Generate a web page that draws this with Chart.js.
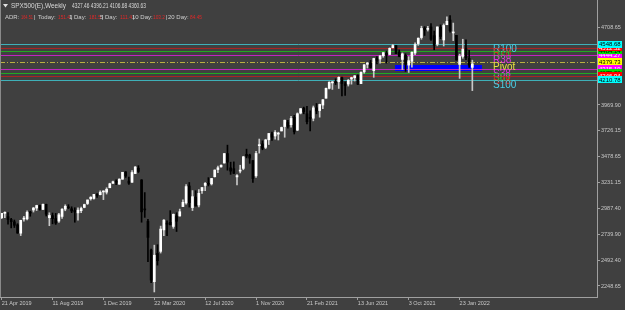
<!DOCTYPE html>
<html>
<head>
<meta charset="utf-8">
<script src="https://cdn.jsdelivr.net/npm/chart.js@4.4.0/dist/chart.umd.min.js"></script>
<style>
  html, body { margin: 0; padding: 0; background: #404040; }
  canvas { display: block; }
</style>
</head>
<body>
<canvas id="myChart" width="625" height="310"></canvas>
<script>
// weekly bars, 21 Apr 2019 .. 20 Feb 2022
const open = [
  2898, 2940, 2908, 2881, 2859, 2830, 2751, 2885, 2887, 2950, 2971, 2990, 3014, 2977, 3025, 2898, 2918, 2890, 2866, 2910,
  2980, 3000, 2983, 2967, 2944, 2965, 2996, 3033, 3078, 3081, 3117, 3117, 3143, 3141, 3183, 3225, 3240,
  3217, 3264, 3333, 3247, 3235, 3318, 3369, 3257, 2974, 2863, 2590, 2290, 2558, 2578, 2782, 2845, 2854, 2815, 2915, 2914,
  3004, 3039, 3200, 2994, 3094, 3019, 3155, 3205, 3224, 3220, 3288, 3356, 3381, 3418, 3508, 3372, 3364, 3286, 3341, 3367,
  3500, 3494, 3441, 3296, 3583, 3600, 3567, 3639, 3695, 3675, 3693, 3723,
  3765, 3803, 3782, 3852, 3731, 3893, 3940, 3886, 3843, 3844, 3943, 3917, 3969, 4034, 4128, 4180, 4185, 4192, 4228, 4170,
  4169, 4217, 4229, 4249, 4173, 4285, 4357, 4372, 4296, 4410, 4407, 4438, 4462, 4450, 4514, 4535, 4475, 4403, 4442, 4349,
  4385, 4464, 4554, 4611, 4702, 4689, 4712, 4629, 4548, 4710, 4588, 4733,
  4778, 4655, 4632, 4356, 4432, 4506, 4413, 4327.46
];
const high = [
  2940, 2954, 2947, 2892, 2876, 2841, 2874, 2910, 2964, 2959, 2996, 3017, 3018, 3028, 3027, 2945, 2943, 2939, 2940, 2985,
  3021, 3022, 3002, 2993, 2993, 3000, 3027, 3066, 3098, 3121, 3127, 3154, 3154, 3183, 3226, 3247, 3258,
  3268, 3329, 3337, 3285, 3347, 3385, 3393, 3260, 3137, 2882, 2600, 2637, 2641, 2818, 2880, 2868, 2965, 2934, 2945, 2980,
  3069, 3212, 3233, 3156, 3155, 3166, 3184, 3233, 3279, 3272, 3353, 3388, 3400, 3509, 3588, 3426, 3429, 3307, 3397, 3482,
  3550, 3502, 3441, 3529, 3646, 3629, 3644, 3699, 3712, 3727, 3711, 3760,
  3827, 3824, 3861, 3871, 3895, 3937, 3950, 3958, 3915, 3960, 3984, 3978, 4021, 4130, 4191, 4194, 4219, 4238, 4236, 4189,
  4213, 4234, 4250, 4257, 4286, 4355, 4372, 4394, 4415, 4430, 4441, 4468, 4482, 4513, 4546, 4535, 4493, 4465, 4457, 4430,
  4476, 4560, 4608, 4719, 4715, 4718, 4744, 4673, 4713, 4732, 4741, 4809,
  4819, 4749, 4632, 4453, 4595, 4590, 4490, 4396.21
];
const low = [
  2889, 2898, 2836, 2801, 2805, 2750, 2728, 2864, 2876, 2912, 2952, 2966, 2970, 2975, 2914, 2822, 2840, 2834, 2853, 2891,
  2964, 2985, 2946, 2855, 2874, 2946, 2992, 3023, 3065, 3075, 3091, 3115, 3070, 3123, 3183, 3223, 3212,
  3215, 3264, 3281, 3214, 3234, 3318, 3328, 2855, 2901, 2479, 2280, 2192, 2447, 2562, 2727, 2727, 2830, 2797, 2767, 2914,
  3004, 3026, 2999, 2966, 3009, 3000, 3128, 3155, 3200, 3209, 3284, 3327, 3379, 3418, 3350, 3310, 3318, 3210, 3324, 3354,
  3467, 3415, 3234, 3280, 3512, 3544, 3555, 3594, 3633, 3646, 3637, 3723,
  3663, 3750, 3760, 3694, 3726, 3885, 3886, 3790, 3723, 3819, 3886, 3854, 3936, 4034, 4122, 4118, 4164, 4127, 4057, 4061,
  4150, 4168, 4198, 4164, 4173, 4272, 4321, 4322, 4233, 4360, 4368, 4423, 4368, 4450, 4514, 4458, 4428, 4306, 4289, 4279,
  4330, 4448, 4537, 4595, 4631, 4673, 4585, 4495, 4532, 4600, 4531, 4733,
  4663, 4582, 4395, 4223, 4414, 4401, 4327, 4106.68
];
const close = [
  2940, 2946, 2881, 2860, 2826, 2752, 2873, 2887, 2950, 2942, 2990, 3014, 2977, 3026, 2932, 2919, 2889, 2847, 2926, 2979,
  3007, 2992, 2962, 2952, 2970, 2986, 3023, 3067, 3093, 3120, 3110, 3141, 3146, 3169, 3221, 3240, 3235,
  3265, 3330, 3295, 3226, 3328, 3380, 3338, 2954, 2972, 2711, 2305, 2541, 2489, 2790, 2875, 2837, 2831, 2930, 2864, 2955,
  3044, 3194, 3041, 3098, 3009, 3130, 3185, 3225, 3216, 3271, 3351, 3373, 3397, 3508, 3427, 3341, 3320, 3298, 3348, 3477,
  3484, 3465, 3270, 3509, 3585, 3558, 3638, 3699, 3664, 3709, 3703, 3756,
  3825, 3768, 3842, 3714, 3887, 3935, 3907, 3811, 3842, 3943, 3913, 3975, 4020, 4129, 4186, 4180, 4181, 4233, 4174, 4156,
  4204, 4230, 4247, 4167, 4281, 4352, 4370, 4327, 4412, 4395, 4437, 4468, 4442, 4509, 4535, 4459, 4433, 4456, 4357, 4391,
  4471, 4545, 4605, 4698, 4683, 4698, 4595, 4538, 4712, 4621, 4726, 4766,
  4677, 4663, 4398, 4432, 4501, 4419, 4349, 4360.63
];

const tickBars = [0, 16, 32, 48, 64, 80, 96, 112, 128, 144];
const tickLabels = ["21 Apr 2019", "11 Aug 2019", "1 Dec 2019", "22 Mar 2020", "12 Jul 2020",
  "1 Nov 2020", "21 Feb 2021", "13 Jun 2021", "3 Oct 2021", "23 Jan 2022"];
const priceTicks = [2248.65, 2492.40, 2739.90, 2987.40, 3231.15, 3478.65, 3726.15, 3969.90, 4217.40, 4461.15, 4708.65];

const levelNames = ["R100", "R78", "R61", "R38", "Pivot", "S38", "S61", "S78", "S100"];
const levelValues = [4548.68, 4512.52, 4484.14, 4444.27, 4379.73, 4315.19, 4275.32, 4246.94, 4210.78];

const zoneBars = [123.6, 151];
const zonePrices = [4290.9, 4347.8];

const symbolText = "SPX500(E),Weekly";
const ohlcText = "4327.46 4396.21 4106.68 4360.63";
const adrNames = ["ADR:", "Today:", "1 Day:", "5 Day:", "10 Day:", "20 Day:"];
const adrValues = ["164.51", "151.4", "181.5", "111.4", "103.2", "84.45"];

// styles
const lineColors = ['#3fb0b8', '#a82424', '#22a822', '#c024c0', '#b8b040', '#c024c0', '#22a822', '#a82424', '#3fb0b8'];
const textColors = ['#48d0e8', '#e02020', '#28c028', '#e030e0', '#e8e040', '#e030e0', '#28c028', '#e02020', '#48d0e8'];
const boxColors = ['#00ffff', '#ff0000', '#00e000', '#ff00ff', '#ffff00', '#ff00ff', '#00e000', '#ff0000', '#00ffff'];
const boxText = ['#000000', '#ffffff', '#000000', '#ffffff', '#000000', '#ffffff', '#000000', '#ffffff', '#000000'];
const boxOrder = [3, 2, 1, 0, 5, 6, 7, 8, 4];
const labelBar = 154.5;
const adrNameX = [5, 38, 69, 100, 132, 168];
const adrValueX = [21, 58, 89, 120, 153, 190];
const FONT = '"Liberation Sans", Arial, sans-serif';

const bars = open.map((o, i) => i);
const bull = bars.map(i => close[i] >= open[i]);

const chartBg = {
  id: 'chartBg',
  beforeDraw(chart) {
    const c = chart.ctx;
    c.save();
    c.fillStyle = '#404040';
    c.fillRect(0, 0, chart.width, chart.height);
    c.restore();
  }
};

const levels = {
  id: 'levels',
  beforeDatasetsDraw(chart) {
    const c = chart.ctx, xs = chart.scales.x, ys = chart.scales.y, a = chart.chartArea;
    c.save();
    // zone rectangle
    const x1 = xs.getPixelForValue(zoneBars[0]), x2 = xs.getPixelForValue(zoneBars[1]);
    const y1 = ys.getPixelForValue(zonePrices[1]), y2 = ys.getPixelForValue(zonePrices[0]);
    c.fillStyle = '#0000ff';
    c.fillRect(Math.round(x1), Math.round(y1), Math.round(x2 - x1), Math.round(y2 - y1));
    // level lines
    levelValues.forEach((v, i) => {
      const y = Math.round(ys.getPixelForValue(v)) + 0.5;
      c.strokeStyle = lineColors[i];
      c.lineWidth = 1;
      c.setLineDash(levelNames[i] === 'Pivot' ? [5, 2, 1, 2] : []);
      c.beginPath();
      c.moveTo(a.left, y);
      c.lineTo(a.right, y);
      c.stroke();
    });
    c.restore();
  },
  afterDraw(chart) {
    const c = chart.ctx, xs = chart.scales.x, ys = chart.scales.y, a = chart.chartArea;
    c.save();
    // left frame line
    c.strokeStyle = '#8a8a8a';
    c.beginPath();
    c.moveTo(0.5, 0);
    c.lineTo(0.5, a.bottom);
    c.stroke();

    // level names
    c.font = '10px ' + FONT;
    c.textBaseline = 'top';
    c.textAlign = 'left';
    const lx = xs.getPixelForValue(labelBar);
    levelValues.forEach((v, i) => {
      c.fillStyle = textColors[i];
      c.fillText(levelNames[i], lx, ys.getPixelForValue(v) + 0.5);
    });

    // price boxes on the axis
    c.font = '6px ' + FONT;
    c.textBaseline = 'middle';
    boxOrder.forEach(i => {
      const y = ys.getPixelForValue(levelValues[i]);
      c.fillStyle = boxColors[i];
      c.fillRect(a.right + 1, Math.round(y - 3.5), 24, 7);
      c.fillStyle = boxText[i];
      c.fillText(levelValues[i].toFixed(2), a.right + 2, y + 0.5, 22);
    });

    // header
    c.fillStyle = '#e0e0e0';
    c.beginPath();
    c.moveTo(3, 4); c.lineTo(8, 4); c.lineTo(5.5, 7.5); c.closePath();
    c.fill();
    c.font = '7px ' + FONT;
    c.fillStyle = '#d8d8d8';
    c.textBaseline = 'middle';
    c.fillText(symbolText, 11, 6, 55);
    c.fillText(ohlcText, 72, 6, 74);
    c.font = '6px ' + FONT;
    adrNames.forEach((t, i) => {
      c.fillStyle = '#d0d0d0';
      c.fillText(t, adrNameX[i], 17);
      c.fillStyle = '#e02828';
      c.fillText(adrValues[i], adrValueX[i], 17, 12);
      if (i < adrNames.length - 1) {
        c.fillStyle = '#d0d0d0';
        c.fillText('|', adrValueX[i] + 13, 17);
      }
    });
    c.restore();
  }
};

function noPad(axis) {
  axis.paddingLeft = 0;
  axis.paddingRight = 0;
  axis.paddingTop = 0;
  axis.paddingBottom = 0;
}

let ctx = document.getElementById("myChart");
let myChart = new Chart(ctx.getContext("2d"), {
  type: 'bar',
  data: {
    datasets: [{
      label: 'body',
      data: bars.map(i => ({ x: i, y: [open[i], close[i]] })),
      backgroundColor: bars.map(i => bull[i] ? '#ffffff' : '#000000'),
      barThickness: 2,
      minBarLength: 1,
      grouped: false
    }, {
      label: 'wick',
      data: bars.map(i => ({ x: i, y: [low[i], high[i]] })),
      backgroundColor: bars.map(i => bull[i] ? '#c8c8c8' : '#000000'),
      barThickness: 1,
      grouped: false
    }]
  },
  options: {
    responsive: false,
    animation: false,
    events: [],
    layout: { padding: 0 },
    plugins: { legend: { display: false }, tooltip: { enabled: false } },
    scales: {
      x: {
        type: 'linear',
        offset: false,
        min: -0.52,
        max: 187.2,
        afterBuildTicks: axis => { axis.ticks = tickBars.map(v => ({ value: v })); },
        afterFit: axis => { axis.height = 13; noPad(axis); },
        ticks: {
          autoSkip: false,
          maxRotation: 0,
          align: 'start',
          padding: 0,
          color: '#c8c8c8',
          font: { family: FONT, size: 5.5 },
          callback: v => tickLabels[tickBars.indexOf(v)] || ''
        },
        grid: { drawOnChartArea: false, tickLength: 3, color: '#a0a0a0', offset: false },
        border: { color: '#a0a0a0' }
      },
      y: {
        position: 'right',
        min: 2144.05,
        max: 4968.2,
        afterBuildTicks: axis => { axis.ticks = priceTicks.map(v => ({ value: v })); },
        afterFit: axis => { axis.width = 28; noPad(axis); },
        ticks: {
          padding: 1,
          color: '#c8c8c8',
          font: { family: FONT, size: 5.5 },
          callback: v => v.toFixed(2)
        },
        grid: { drawOnChartArea: false, tickLength: 3, color: '#a0a0a0' },
        border: { color: '#a0a0a0' }
      }
    }
  },
  plugins: [chartBg, levels]
});
</script>
</body>
</html>
